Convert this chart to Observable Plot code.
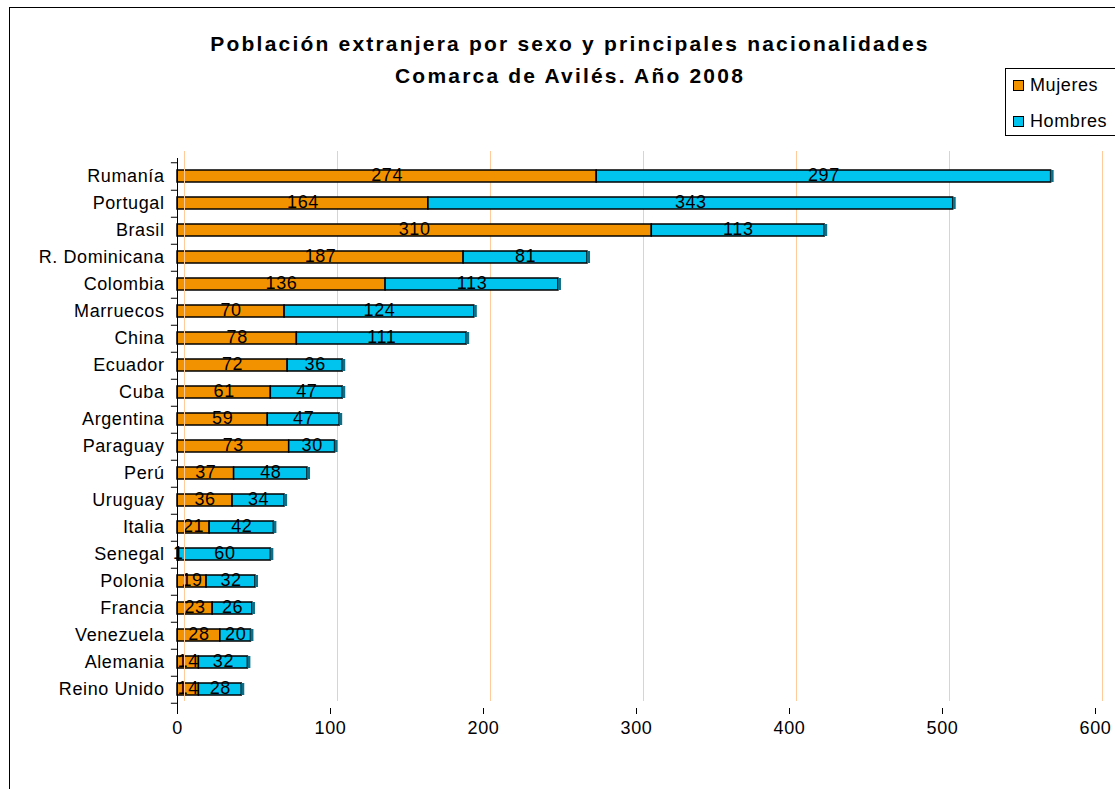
<!DOCTYPE html>
<html>
<head>
<meta charset="utf-8">
<script src="https://cdn.jsdelivr.net/npm/d3@7"></script>
<script src="https://cdn.jsdelivr.net/npm/@observablehq/plot@0.6"></script>
<style>
  html, body { margin: 0; padding: 0; background: #fff; }
  #wrap { position: relative; width: 1115px; height: 789px; overflow: hidden; font-family: "Liberation Sans", Arial, sans-serif; }
  #frame { position: absolute; left: 9px; top: 7px; width: 1200px; height: 900px; border: 1px solid #000; box-sizing: border-box; }
  #title { position: absolute; left: 0; width: 1140px; top: 28px; text-align: center; font-weight: bold; font-size: 21px; letter-spacing: 2.2px; line-height: 32px; color: #000; }
  #legend { position: absolute; left: 1005px; top: 68px; width: 140px; height: 68px; border: 1px solid #000; background: #fff; box-sizing: border-box; font-size: 18px; letter-spacing: 0.6px; }
  .li { position: absolute; left: 7px; display: flex; align-items: center; }
  .sw { width: 9px; height: 9px; border: 1px solid #000; margin-right: 6px; }
  #chart { position: absolute; left: 0; top: 0; }
  #chart svg text { letter-spacing: 0.6px; }
</style>
</head>
<body>
<div id="wrap">
  <div id="frame"></div>
  <div id="chart"></div>
  <div id="title">Población extranjera por sexo y principales nacionalidades<br>Comarca de Avilés. Año 2008</div>
  <div id="legend">
    <div class="li" style="top:6px"><div class="sw" style="background:#F39200"></div>Mujeres</div>
    <div class="li" style="top:42px"><div class="sw" style="background:#00C3EE"></div>Hombres</div>
  </div>
</div>
<script>
const countries = ["Rumanía","Portugal","Brasil","R. Dominicana","Colombia","Marruecos","China","Ecuador","Cuba","Argentina","Paraguay","Perú","Uruguay","Italia","Senegal","Polonia","Francia","Venezuela","Alemania","Reino Unido"];
const mujeres = [274,164,310,187,136,70,78,72,61,59,73,37,36,21,1,19,23,28,14,14];
const hombres = [297,343,113,81,113,124,111,36,47,47,30,48,34,42,60,32,26,20,32,28];
const series = ["Mujeres","Hombres"];
const colors = ["#F39200","#00C3EE"];
const xTicks = [0,100,200,300,400,500,600];

const data = [];
series.forEach((s, si) => {
  const vals = si === 0 ? mujeres : hombres;
  countries.forEach((c, i) => data.push({country: c, sex: s, value: vals[i]}));
});
const totals = countries.map((c, i) => ({country: c, total: mujeres[i] + hombres[i]}));

const marginTop = 158, marginBottom = 81, H = 789;
const step = (H - marginTop - marginBottom) / countries.length;

const plot = Plot.plot({
  width: 1115,
  height: H,
  marginLeft: 177,
  marginRight: 20,
  marginTop,
  marginBottom,
  style: {fontFamily: "'Liberation Sans', Arial, sans-serif", fontSize: "18px", background: "transparent", color: "#000"},
  x: {domain: [0, 600], ticks: xTicks, tickFormat: d => d, label: null},
  y: {domain: countries, paddingInner: 0.55, paddingOuter: 0.275, label: null},
  color: {domain: series, range: colors},
  marks: [
    Plot.ruleX(xTicks, {dx: 7, dy: -7, stroke: "#FFCC99", strokeWidth: 1}),
    Plot.barX(data, Plot.stackX({x: "value", y: "country", fill: "sex", z: "sex", order: series, stroke: "#000", strokeWidth: 1.5})),
    Plot.tickX(totals, {x: "total", y: "country", dx: 1, stroke: "#0d6f88", strokeWidth: 3}),
    Plot.text(data, Plot.stackX({x: "value", y: "country", z: "sex", order: series, text: "value", fill: "#000", fontSize: 18, dy: -1})),
    Plot.axisX({ticks: xTicks, tickSize: 6, tickPadding: 7, fontSize: 18, stroke: "#000", label: null}),
    Plot.ruleY(countries, {y: d => d, dy: step / 2, x1: -4, x2: 0, stroke: "#000"}),
    Plot.ruleY(countries.slice(0, 1), {y: d => d, dy: -step / 2, x1: -4, x2: 0, stroke: "#000"}),
    Plot.axisY({tickSize: 0, tickPadding: 13, fontSize: 18, label: null}),
    Plot.ruleX([0], {stroke: "#000"}),
    Plot.ruleX([0], {dx: 7, dy: -7, stroke: "#FFCC99"})
  ]
});
document.getElementById("chart").appendChild(plot);
</script>
</body>
</html>
